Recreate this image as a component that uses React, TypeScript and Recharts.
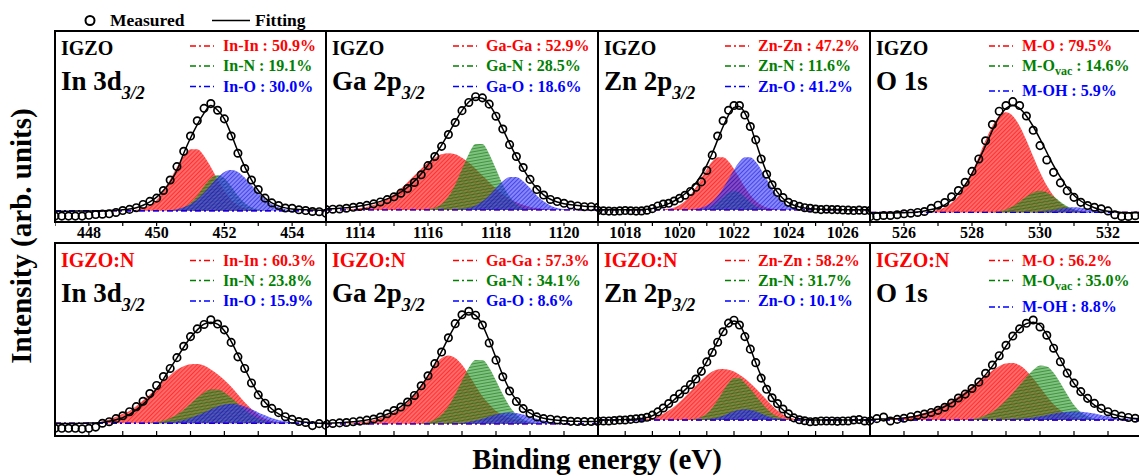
import React from 'react';
import { ComposedChart, Line, Area, XAxis, YAxis, ReferenceLine } from 'recharts';

const FONT = "'Liberation Serif', 'Times New Roman', Times, serif";
const STEP = 0.2;

// ---------- binding-energy ranges (eV) ----------
const inDomain = [447, 455];
const gaDomain = [1113, 1121];
const znDomain = [1017, 1027];
const oDomain = [525, 533];

// ---------- IGZO : In 3d3/2 ----------
const t1Meas = [3.1,3.1,3.1,3.1,3.1,3.5,3.9,4.1,4.3,5.0, 6.0,6.6,7.5,9.2,10.8,12.5,16.5,22,29,37, 45,53,59.5,62,58.5,54,45,36,28,22, 17,12.5,10,8.6,7.3,7.2,6.4,6.0,5.5,5.4, 4.6];
const t1Fit = [5.6,5.6,5.6,5.7,5.7,5.8,5.8,5.9,6.0,6.2, 6.4,6.8,7.5,8.8,10.5,13,16.5,21,27,36, 44,51,57,61,58.5,54,46,37,29,22, 16.5,12.5,10,8.4,7.4,6.8,6.6,6.4,6.3,6.2, 6.2];
const t1RedStart = 449.2;
const t1Red = [6.0,6.4,7.2,8.8,11.7,16.2,22.2,28.8,34.6,38.1,38.1,34.6,28.8,22.2,16.2,11.7,8.8,7.2,6.4,6.0];
const t1GreenStart = 450.4;
const t1Green = [6.0,6.5,7.6,10.0,13.8,18.7,22.9,24.6,22.9,18.7,13.8,10.0,7.6,6.5,6.0];
const t1BlueStart = 450.4;
const t1Blue = [6.2,6.7,7.7,9.3,11.9,15.4,19.4,23.3,26.2,27.2,26.2,23.3,19.4,15.4,11.9,9.3,7.7,6.7,6.2,6.0];
const t1Base = 5.9;

// ---------- IGZO : Ga 2p3/2 ----------
const t2Meas = [6.5,6.7,6.8,7.2,7.7,8.1,8.7,9.5,10.5,11.7, 13.2,15.1,17.5,20.7,24.7,29.5,34.3,39.6,45.8,52.1, 58.3,62.6,65.6,65,61.7,55.4,48.7,40.5,34.3,28.5, 22.3,17,14.1,11.8,10.7,9.8,8.9,8.4,8.0,8.0, 7.7];
const t2Fit = [6.9,7.0,7.2,7.5,7.9,8.4,9.0,9.8,10.8,12.1, 13.7,15.7,18.2,21.4,25.3,29.8,34.8,40.3,46.3,52.5, 58.3,62.8,65.2,64.8,61.5,55.8,48.7,41.2,34.2,27.8, 22.2,17.6,14.2,11.9,10.5,9.6,9.0,8.6,8.3,8.1, 8.0];
const t2RedStart = 1113.6;
const t2Red = [6.6,6.8,7.3,7.9,8.9,10.3,12.1,14.5,17.4,20.8,24.3,27.9,31.1,33.7,35.5,36.0,35.5,33.7,31.1,27.9,24.3,20.8,17.4,14.5,12.1,10.3,8.9,7.9,7.3,6.8,6.6];
const t2GreenStart = 1115.8;
const t2Green = [6.3,6.7,7.4,9.4,13.3,19.5,27.7,35.6,40.8,40.8,35.6,27.7,19.5,13.3,9.4,7.4,6.7,6.3];
const t2BlueStart = 1116.8;
const t2Blue = [6.4,6.7,7.3,8.6,10.8,13.9,17.8,21.3,23.5,23.5,21.3,17.8,13.9,10.8,8.6,7.3,6.7,6.4];
const t2Base = 6.3;

// ---------- IGZO : Zn 2p3/2 ----------
const t3Meas = [6.0,5.9,5.7,5.6,5.8,6.0,5.9,5.7,5.8,6.2, 7.0,8.4,9.4,9.8,11.0,12.4,14.0,16.0,18.2,21.0, 27,35,45,53,58.5,61,61,56,50,43, 33,25,19.5,15.5,12.8,10.3,9.2,8.2,7.5,7.2, 6.8,6.5,6.7,6.5,6.5,6.3,6.2,6.0,6.2,6.0, 6.0];
const t3Fit = [6.4,6.4,6.4,6.4,6.4,6.4,6.4,6.4,6.5,6.7, 7.1,7.7,8.5,9.6,11.0,12.7,14.8,17.3,20.5,24.6, 29.8,36,43,50,56,60,60.5,57,50.5,42, 33.5,26,20,15.5,12.3,10.2,8.8,7.9,7.3,7.0, 6.8,6.7,6.6,6.5,6.5,6.4,6.4,6.4,6.4,6.4, 6.4];
const t3RedStart = 1019.4;
const t3Red = [6.6,6.9,7.6,8.9,11.0,14.1,18.2,23.0,27.8,31.7,33.9,33.9,31.7,27.8,23.0,18.2,14.1,11.0,8.9,7.6,6.9,6.6];
const t3GreenStart = 1020.8;
const t3Green = [6.6,7.1,8.3,10.4,13.1,15.4,16.4,15.4,13.1,10.4,8.3,7.1,6.6];
const t3BlueStart = 1020.4;
const t3Blue = [6.5,6.8,7.4,8.6,10.6,13.6,17.7,22.5,27.4,31.5,33.9,33.9,31.5,27.4,22.5,17.7,13.6,10.6,8.6,7.4,6.8,6.5];
const t3Base = 6.3;

// ---------- IGZO : O 1s ----------
const t4Meas = [2.8,3.0,3.4,3.4,3.8,4.3,4.6,5.0,5.5,7.2, 8.8,10.2,13.2,16.5,20.8,26.5,33,42.5,51,58, 61,63,61,55.5,48,40,32.5,26,20.5,16.4, 12.9,10.3,8.6,7.7,6.9,5.8,3.8,2.9,2.9,3.3, 3.4];
const t4Fit = [4.7,4.7,4.7,4.7,4.8,4.9,5.0,5.2,5.8,6.5, 7.5,9.0,11.5,15,19.5,25.5,32.5,40,48,55, 59.5,61,59.5,55.5,50,43.5,36.5,29.5,23.5,18, 14,11,9,7.5,6.3,5.6,5.3,5.0,4.9,4.8, 4.8];
const t4RedStart = 526.6;
const t4Red = [5.3,5.6,6.4,7.7,10.1,13.8,19.1,26.1,34.3,42.8,50.3,55.5,57.4,55.5,50.3,42.8,34.3,26.1,19.1,13.8,10.1,7.7,6.4,5.6,5.3];
const t4GreenStart = 528.6;
const t4Green = [5.2,5.6,6.5,8.2,10.6,13.3,15.5,16.4,15.5,13.3,10.6,8.2,6.5,5.6,5.2];
const t4BlueStart = 529.8;
const t4Blue = [5.15,5.4,5.8,6.3,7.0,7.5,7.7,7.5,7.0,6.3,5.8,5.4,5.15];
const t4Base = 5.0;

// ---------- IGZO:N : In 3d3/2 ----------
const b1Meas = [4.0,4.0,4.0,4.0,3.7,4.0,4.6,6.6,7.4,9.0, 10.5,12.6,15.2,18.0,22,26.2,30.8,35,40.6,46.5, 51.5,55.5,57.8,60.2,58,55,48.5,41,35,27.5, 21.3,17,14.3,12.1,10.0,8.6,7.5,7.0,5.4,6.4, 5.5];
const b1Fit = [6.5,6.5,6.5,6.5,6.6,6.7,6.8,7.0,7.6,8.4, 9.5,11.2,13.5,16.5,20,24.5,29.5,35,40.5,46, 51,55,58,59,58,54.5,49,42,35,28, 22,17.5,14,11.5,9.8,8.5,7.6,7.1,6.8,6.6, 6.5];
const b1RedStart = 448.2;
const b1Red = [6.8,7.5,8.5,10,11.5,13,15.5,18.5,21.5,25,28.5,31.5,34.3,36.2,37.2,37.3,36.5,34.5,32,29,25.5,21.5,17.5,14,11,9,7.8,7.1,6.8];
const b1GreenStart = 449.8;
const b1Green = [6.9,7.3,8.0,9.2,11.1,13.6,16.7,19.9,22.6,24.1,24.1,22.6,19.9,16.7,13.6,11.1,9.2,8.0,7.3,6.9];
const b1BlueStart = 450.0;
const b1Blue = [6.7,6.9,7.1,7.6,8.3,9.3,10.7,12.2,13.9,15.3,16.3,16.7,16.3,15.3,13.9,12.2,10.7,9.3,8.3,7.6,7.1,6.9,6.7];
const b1Base = 6.6;

// ---------- IGZO:N : Ga 2p3/2 ----------
const b2Meas = [6.3,6.5,6.8,7.0,7.4,7.7,8.2,8.8,9.8,11.5, 13.2,15.0,17.6,21,26,31.2,37.5,43.5,50.9,58.2, 62.8,64.6,62.6,57.5,48.2,39.3,30.7,23.3,17.9,14.2, 11.6,9.9,9.0,8.7,8.3,8.0,7.6,7.5,7.5,7.5, 7.5];
const b2Fit = [6.6,6.7,6.9,7.1,7.4,7.8,8.3,9.0,10.0,11.3, 13.0,15.2,18.0,21.5,26,31.2,37.2,43.8,50.8,57.2, 62,64,62.5,57.5,49.5,40.5,31.5,24,18.5,14.5, 11.8,10.2,9.2,8.6,8.2,7.9,7.7,7.6,7.5,7.5, 7.5];
const b2RedStart = 1113.6;
const b2Red = [6.6,6.9,7.2,7.5,8.3,9.3,10.6,12.3,14.5,17.5,21.5,26.5,31.8,36.9,40.4,41.7,40.4,36.9,31.8,26.1,20.6,16.5,13,10.8,9.3,8.3,7.5,7.0,6.6];
const b2GreenStart = 1115.8;
const b2Green = [6.6,7.2,8.5,11.1,15.4,21.6,28.7,35.4,39.4,39.4,35.4,28.7,21.6,15.4,11.1,8.5,7.2,6.6];
const b2BlueStart = 1116.8;
const b2Blue = [6.5,6.8,7.3,8.0,8.9,10.1,11.1,11.9,12.2,11.9,11.1,10.1,8.9,8.0,7.3,6.8,6.5];
const b2Base = 6.3;

// ---------- IGZO:N : Zn 2p3/2 ----------
const b3Meas = [7.8,7.8,7.8,8.0,8.3,8.3,8.6,8.9,9.2,9.7, 10.8,12.5,14.5,16.8,19.4,21.8,24.0,26.6,29.5,33.5, 38.4,43.3,48.6,54,58.5,60,57.5,51.5,45,38, 30,24.2,19.8,16.8,14,11.5,9.4,8.4,7.9,7.4, 7.5,7.8,7.8,7.8,7.6,7.8,7.8,8.3,8.5,7.8, 7.6];
const b3Fit = [8.3,8.3,8.3,8.3,8.4,8.5,8.6,8.8,9.1,9.6, 10.5,12.0,14.0,16.3,18.8,21.3,23.9,26.7,29.9,33.8, 38.5,43.8,49.2,54.3,58.2,59.6,57.8,52.5,45.5,38, 31,25,20.2,16.5,13.6,11.4,9.9,9.0,8.6,8.4, 8.3,8.3,8.3,8.3,8.3,8.3,8.3,8.3,8.3,8.3, 8.3];
const b3RedStart = 1018.6;
const b3Red = [8.5,8.8,9.3,10.2,11.5,13.2,15.2,17.6,20.3,23.2,26.2,29.0,31.5,33.4,34.5,34.7,34.3,33.4,31.8,29.8,27.3,24.6,21.8,18.8,15.8,13.2,11.2,9.8,9.0,8.6,8.4];
const b3GreenStart = 1020.4;
const b3Green = [8.6,9.0,9.9,11.7,14.7,18.7,23.3,27.5,30.1,30.1,27.5,24.5,21,17.5,14.3,11.8,10.1,9.1,8.6];
const b3BlueStart = 1020.8;
const b3Blue = [8.4,8.6,9.0,9.6,10.5,11.6,12.8,13.6,13.9,13.6,12.8,11.6,10.5,9.6,9.0,8.6,8.4];
const b3Base = 8.3;

// ---------- IGZO:N : O 1s ----------
const b4Meas = [8.0,9.0,9.8,7.8,8.6,9.2,10.0,10.7,11.4,12.2, 13.3,14.9,17.1,19.7,21.7,24.6,27.9,32.5,36.8,41.6, 47,51.8,55.5,58.4,60.1,56.5,52.2,45.5,38.5,32.6, 27.4,23,19.5,16.9,14.3,12.6,11.3,10.3,9.6,9.2, 9.0];
const b4Fit = [8.6,8.7,8.8,8.9,9.0,9.3,9.8,10.5,11.4,12.4, 13.7,15.3,17.2,19.5,22,24.8,28,31.8,36.2,41.2, 46.5,51.5,55.5,58.2,59,57.5,52.5,46,39.5,33, 27.3,22.7,19,16,13.8,12.2,11,10.1,9.5,9.1, 8.9];
const b4RedStart = 525.4;
const b4Red = [8.5,8.8,9.1,9.5,10.2,11.0,12.0,13.2,14.6,16.3,18.3,20.6,23.1,25.8,28.6,31.4,34.0,36.2,37.6,37.8,36.6,33.8,29.8,25.3,20.6,16.5,13.3,11.1,9.8,9.0,8.6];
const b4GreenStart = 528.0;
const b4Green = [8.8,9.5,10.7,12.6,15.2,18.5,22.3,26.4,30.6,34.2,36.5,36.0,32.8,27.5,21.5,16.0,12.3,10.2,9.1,8.6];
const b4BlueStart = 529.0;
const b4Blue = [8.5,8.6,8.8,9.2,9.6,10.2,10.9,11.6,12.2,12.6,12.7,12.6,12.2,11.6,10.9,10.2,9.6,9.2,8.8,8.6,8.5];
const b4Base = 8.3;

// ---------- text ----------
const sampleTop = 'IGZO';
const sampleBottom = 'IGZO:N';
const coreLabels = [
  { main: 'In 3d', sub: '3/2' },
  { main: 'Ga 2p', sub: '3/2' },
  { main: 'Zn 2p', sub: '3/2' },
  { main: 'O 1s', sub: '' },
];
const topLegends = [
  [{ pre: 'In-In : 50.9%' }, { pre: 'In-N : 19.1%' }, { pre: 'In-O : 30.0%' }],
  [{ pre: 'Ga-Ga : 52.9%' }, { pre: 'Ga-N : 28.5%' }, { pre: 'Ga-O : 18.6%' }],
  [{ pre: 'Zn-Zn : 47.2%' }, { pre: 'Zn-N : 11.6%' }, { pre: 'Zn-O : 41.2%' }],
  [{ pre: 'M-O : 79.5%' }, { pre: 'M-O', sub: 'vac', post: ' : 14.6%' }, { pre: 'M-OH : 5.9%' }],
];
const bottomLegends = [
  [{ pre: 'In-In : 60.3%' }, { pre: 'In-N : 23.8%' }, { pre: 'In-O : 15.9%' }],
  [{ pre: 'Ga-Ga : 57.3%' }, { pre: 'Ga-N : 34.1%' }, { pre: 'Ga-O : 8.6%' }],
  [{ pre: 'Zn-Zn : 58.2%' }, { pre: 'Zn-N : 31.7%' }, { pre: 'Zn-O : 10.1%' }],
  [{ pre: 'M-O : 56.2%' }, { pre: 'M-O', sub: 'vac', post: ' : 35.0%' }, { pre: 'M-OH : 8.8%' }],
];
const compColors = ['#ff0000', '#008000', '#0000ff'];

// ---------- layout ----------
const PX = [55, 326, 598, 870];
const PW = [271, 272, 272, 272];
const TOP_Y = 31;
const TOP_H = 191;
const BOT_Y = 243;
const BOT_H = 193;
const legendSampleOff = [135, 127, 127, 119];
const legendTextOff = [168, 160, 160, 152];

type Comp = { start: number; vals: number[] };
type Cfg = { id: string; domain: number[]; meas: number[]; fit: number[]; red: Comp; green: Comp; blue: Comp; base: number };

const topCfgs: Cfg[] = [
  { id: 't1', domain: inDomain, meas: t1Meas, fit: t1Fit, red: { start: t1RedStart, vals: t1Red }, green: { start: t1GreenStart, vals: t1Green }, blue: { start: t1BlueStart, vals: t1Blue }, base: t1Base },
  { id: 't2', domain: gaDomain, meas: t2Meas, fit: t2Fit, red: { start: t2RedStart, vals: t2Red }, green: { start: t2GreenStart, vals: t2Green }, blue: { start: t2BlueStart, vals: t2Blue }, base: t2Base },
  { id: 't3', domain: znDomain, meas: t3Meas, fit: t3Fit, red: { start: t3RedStart, vals: t3Red }, green: { start: t3GreenStart, vals: t3Green }, blue: { start: t3BlueStart, vals: t3Blue }, base: t3Base },
  { id: 't4', domain: oDomain, meas: t4Meas, fit: t4Fit, red: { start: t4RedStart, vals: t4Red }, green: { start: t4GreenStart, vals: t4Green }, blue: { start: t4BlueStart, vals: t4Blue }, base: t4Base },
];
const bottomCfgs: Cfg[] = [
  { id: 'b1', domain: inDomain, meas: b1Meas, fit: b1Fit, red: { start: b1RedStart, vals: b1Red }, green: { start: b1GreenStart, vals: b1Green }, blue: { start: b1BlueStart, vals: b1Blue }, base: b1Base },
  { id: 'b2', domain: gaDomain, meas: b2Meas, fit: b2Fit, red: { start: b2RedStart, vals: b2Red }, green: { start: b2GreenStart, vals: b2Green }, blue: { start: b2BlueStart, vals: b2Blue }, base: b2Base },
  { id: 'b3', domain: znDomain, meas: b3Meas, fit: b3Fit, red: { start: b3RedStart, vals: b3Red }, green: { start: b3GreenStart, vals: b3Green }, blue: { start: b3BlueStart, vals: b3Blue }, base: b3Base },
  { id: 'b4', domain: oDomain, meas: b4Meas, fit: b4Fit, red: { start: b4RedStart, vals: b4Red }, green: { start: b4GreenStart, vals: b4Green }, blue: { start: b4BlueStart, vals: b4Blue }, base: b4Base },
];

function buildRows(c: Cfg) {
  const n = Math.round((c.domain[1] - c.domain[0]) / STEP) + 1;
  const rows: any[] = [];
  for (let i = 0; i < n; i++) {
    const e = Math.round((c.domain[0] + i * STEP) * 10) / 10;
    const row: any = { e, m: c.meas[i] ?? null, f: c.fit[i] ?? null };
    const comps: [string, Comp][] = [['r', c.red], ['g', c.green], ['b', c.blue]];
    comps.forEach(([k, comp]) => {
      const j = Math.round((e - comp.start) / STEP);
      row[k] = j >= 0 && j < comp.vals.length ? comp.vals[j] : null;
    });
    rows.push(row);
  }
  return rows;
}

function Panel({ cfg, left, top, width, plotH, labels }: { cfg: Cfg; left: number; top: number; width: number; plotH: number; labels: boolean }) {
  const rows = buildRows(cfg);
  const ticks: number[] = [];
  for (let t = cfg.domain[0]; t <= cfg.domain[1]; t++) ticks.push(t);
  const axisH = labels ? 26 : 4;
  return (
    <div style={{ position: 'absolute', left, top, width, height: plotH + axisH }}>
      <ComposedChart width={width} height={plotH + axisH} data={rows} margin={{ top: 0, right: 0, bottom: 0, left: 0 }}>
        <XAxis
          dataKey="e"
          type="number"
          domain={cfg.domain}
          allowDataOverflow
          ticks={ticks}
          interval={0}
          axisLine={false}
          tickLine={{ stroke: '#000', strokeWidth: 1.2 }}
          tickSize={labels ? 4 : -5}
          tickMargin={labels ? 1 : 0}
          height={axisH}
          tick={{ fontSize: 16, fontWeight: 700, fill: '#000', fontFamily: FONT }}
          tickFormatter={(v: number) => (labels && v % 2 === 0 ? String(v) : '')}
        />
        <YAxis type="number" domain={[0, 100]} hide width={0} allowDataOverflow />
        <ReferenceLine y={cfg.base} stroke="#ff0000" strokeWidth={1.3} strokeDasharray="6 3 2 3" />
        <Area dataKey="r" type="monotone" stroke="none" fill={`url(#hatch-r)`} fillOpacity={1} baseValue={cfg.base} isAnimationActive={false} />
        <Area dataKey="g" type="monotone" stroke="none" fill={`url(#hatch-g)`} fillOpacity={1} baseValue={cfg.base} isAnimationActive={false} />
        <Area dataKey="b" type="monotone" stroke="none" fill={`url(#hatch-b)`} fillOpacity={1} baseValue={cfg.base} isAnimationActive={false} />
        <ReferenceLine y={cfg.base} stroke="#0000ff" strokeWidth={1.3} strokeDasharray="6 3 2 3" />
        <Line dataKey="f" type="monotone" stroke="#000" strokeWidth={1.5} dot={false} isAnimationActive={false} />
        <Line dataKey="m" type="linear" stroke="none" dot={{ r: 3.7, stroke: '#000', strokeWidth: 1.7, fill: 'none' }} activeDot={false} isAnimationActive={false} />
      </ComposedChart>
    </div>
  );
}

type LegendItem = { pre: string; sub?: string; post?: string };

function PanelText({ i, row }: { i: number; row: 'top' | 'bottom' }) {
  const x0 = PX[i];
  const isTop = row === 'top';
  const sampleY = isTop ? 55 : 267;
  const coreY = isTop ? 90 : 302;
  const legY = isTop ? [51, 71, i === 3 ? 96 : 91.5] : [265.5, 285.5, i === 3 ? 312 : 306];
  const items: LegendItem[] = (isTop ? topLegends : bottomLegends)[i];
  const core = coreLabels[i];
  return (
    <g fontFamily={FONT} fontWeight={700}>
      <text x={x0 + 6} y={sampleY} fontSize={20} fill={isTop ? '#000' : '#ff0000'}>{isTop ? sampleTop : sampleBottom}</text>
      <text x={x0 + 6} y={coreY} fontSize={27} fill="#000">
        {core.main}
        {core.sub ? <tspan fontSize={18} fontStyle="italic" dy={9}>{core.sub}</tspan> : null}
      </text>
      {items.map((it, k) => {
        const y = legY[k];
        const col = compColors[k];
        const sx = x0 + legendSampleOff[i];
        return (
          <g key={k}>
            <line x1={sx} x2={sx + 24} y1={y - 5} y2={y - 5} stroke={col} strokeWidth={1.3} strokeDasharray="6 3 2 3" />
            <text x={x0 + legendTextOff[i]} y={y} fontSize={16} fill={col}>
              {it.pre}
              {it.sub ? <tspan fontSize={12} dy={4}>{it.sub}</tspan> : null}
              {it.post ? <tspan dy={it.sub ? -4 : 0}>{it.post}</tspan> : null}
            </text>
          </g>
        );
      })}
    </g>
  );
}

export default function App() {
  return (
    <div style={{ position: 'absolute', left: 0, top: 0, width: 1139, height: 476, overflow: 'hidden', background: '#fff' }}>
      <svg width={0} height={0} style={{ position: 'absolute' }}>
        <defs>
          <pattern id="hatch-r" width="3" height="3" patternUnits="userSpaceOnUse" patternTransform="rotate(45)">
            <rect width="3" height="3" fill="#ff3030" fillOpacity="0.72" />
            <line x1="0" y1="0" x2="0" y2="3" stroke="#ff0000" strokeWidth="1.2" strokeOpacity="0.9" />
          </pattern>
          <pattern id="hatch-g" width="3" height="3" patternUnits="userSpaceOnUse" patternTransform="rotate(80)">
            <rect width="3" height="3" fill="#2a9a2a" fillOpacity="0.6" />
            <line x1="0" y1="0" x2="0" y2="3" stroke="#006000" strokeWidth="1.2" strokeOpacity="0.8" />
          </pattern>
          <pattern id="hatch-b" width="3" height="3" patternUnits="userSpaceOnUse" patternTransform="rotate(45)">
            <rect width="3" height="3" fill="#3535ff" fillOpacity="0.6" />
            <line x1="0" y1="0" x2="0" y2="3" stroke="#0000c0" strokeWidth="1.2" strokeOpacity="0.8" />
          </pattern>
        </defs>
      </svg>
      {topCfgs.map((c, i) => (
        <Panel key={c.id} cfg={c} left={PX[i]} top={TOP_Y} width={PW[i]} plotH={TOP_H} labels />
      ))}
      {bottomCfgs.map((c, i) => (
        <Panel key={c.id} cfg={c} left={PX[i]} top={BOT_Y} width={PW[i]} plotH={BOT_H} labels={false} />
      ))}
      <svg width={1139} height={476} style={{ position: 'absolute', left: 0, top: 0, pointerEvents: 'none' }}>
        {PX.map((x, i) => (
          <rect key={'ft' + i} x={x} y={TOP_Y} width={PW[i]} height={TOP_H} fill="none" stroke="#000" strokeWidth={2} />
        ))}
        {PX.map((x, i) => (
          <rect key={'fb' + i} x={x} y={BOT_Y} width={PW[i]} height={BOT_H} fill="none" stroke="#000" strokeWidth={2} />
        ))}
        {PX.map((_, i) => <PanelText key={'tt' + i} i={i} row="top" />)}
        {PX.map((_, i) => <PanelText key={'tb' + i} i={i} row="bottom" />)}
        <g fontFamily={FONT} fontWeight={700} fill="#000">
          <circle cx={90} cy={20.5} r={4.5} fill="none" stroke="#000" strokeWidth={2} />
          <text x={110} y={26} fontSize={17.5}>Measured</text>
          <line x1={212} x2={250} y1={20.5} y2={20.5} stroke="#000" strokeWidth={1.6} />
          <text x={255} y={26} fontSize={17.5}>Fitting</text>
          <text x={597} y={469} fontSize={29} textAnchor="middle">Binding energy (eV)</text>
          <text x={31} y={236} fontSize={29} textAnchor="middle" transform="rotate(-90 31 236)">Intensity (arb. units)</text>
        </g>
      </svg>
    </div>
  );
}
